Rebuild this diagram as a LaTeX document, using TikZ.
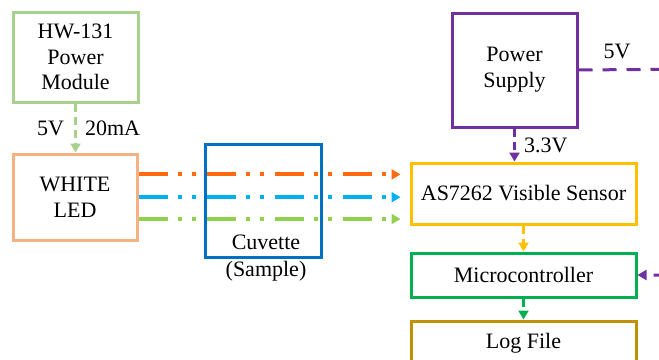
\documentclass[tikz,border=0pt]{standalone}
\usepackage{fontspec}
\setmainfont{Liberation Serif}
\usetikzlibrary{arrows.meta,positioning}

\definecolor{hwgreen}{HTML}{A9D18E}
\definecolor{ledorange}{HTML}{F4B183}
\definecolor{cuvblue}{HTML}{0070C0}
\definecolor{psviolet}{HTML}{7030A0}
\definecolor{sensyellow}{HTML}{FFC000}
\definecolor{mcugreen}{HTML}{00B050}
\definecolor{loggold}{HTML}{BF9000}
\definecolor{rayorange}{HTML}{FF6A10}
\definecolor{rayblue}{HTML}{00B0F0}
\definecolor{raygreen}{HTML}{92D050}

\begin{document}
\begin{tikzpicture}[x=0.5pt,y=-0.5pt,>={Triangle[length=4.5pt,width=5pt]},
	box/.style={draw,line width=1.5pt,align=center,inner sep=0pt,font=\fontsize{11}{12.9}\selectfont},
	lbl/.style={font=\fontsize{11}{13.2}\selectfont,align=center,inner sep=1pt},
	wire/.style={->,line width=1.5pt,dash pattern=on 4pt off 2.5pt},
	ray/.style={->,line width=2pt,shorten >=4.5pt,dash pattern=on 14.5pt off 5pt on 2pt off 5pt on 2pt off 5.5pt}]

\useasboundingbox (0,0) rectangle (659,359);
\clip (0,0) rectangle (659,359);

% left side: supply and light source
\node[box,draw=hwgreen,minimum width=62.5pt,minimum height=45pt]   (hw)  at (75.5,57)   {HW-131\\Power\\Module};
\node[box,draw=ledorange,minimum width=62pt,minimum height=43pt]   (led) at (75,197)    {WHITE\\LED};
\node[box,draw=cuvblue,minimum width=58pt,minimum height=56.5pt]   (cuv) at (263,200.5) {};
\node[lbl]   (cuvlbl) at (266,258)   {Cuvette\\(Sample)};

% right side: sensor chain
\node[box,draw=psviolet,minimum width=62.5pt,minimum height=57pt]      (ps)   at (514.5,70)    {Power\\Supply};
\node[box,draw=sensyellow,minimum width=112.5pt,minimum height=30.5pt] (sens) at (523.5,193.5) {AS7262 Visible Sensor};
\node[box,draw=mcugreen,minimum width=112.5pt,minimum height=22pt]     (mcu)  at (523.5,275)   {Microcontroller};
\node[box,draw=loggold,minimum width=112.5pt,minimum height=22pt]      (log)  at (523.5,343)   {Log File};

\draw[wire,draw=hwgreen] (hw.south) -- (hw.south |- led.north)
	node[lbl,midway,left=4pt] {5V}
	node[lbl,midway,right=3pt] {20mA};

% light through the sample
\draw[ray,draw=rayorange] ([yshift=11.3pt]led.east) -- ([yshift=11.3pt]led.east -| sens.west);
\draw[ray,draw=rayblue]   ([yshift=-0.1pt]led.east) -- ([yshift=-0.1pt]led.east -| sens.west);
\draw[ray,draw=raygreen]  ([yshift=-11pt]led.east)  -- ([yshift=-11pt]led.east -| sens.west);

\draw[wire,draw=psviolet] (ps.south) -- (ps.south |- sens.north)
	node[lbl,midway,right=3pt] {3.3V};
\draw[wire,draw=sensyellow] (sens.south) -- (mcu.north);
\draw[wire,draw=mcugreen]   (mcu.south) -- (log.north);

% 5V line round the outside
\coordinate (rail) at (700,69);
\draw[wire,draw=psviolet,dash pattern=on 7pt off 5pt] (ps.east) -- (rail) -- (rail |- mcu.east) -- (mcu.east);
\node[lbl] (v5) at (617,51) {5V};

\end{tikzpicture}
\end{document}
